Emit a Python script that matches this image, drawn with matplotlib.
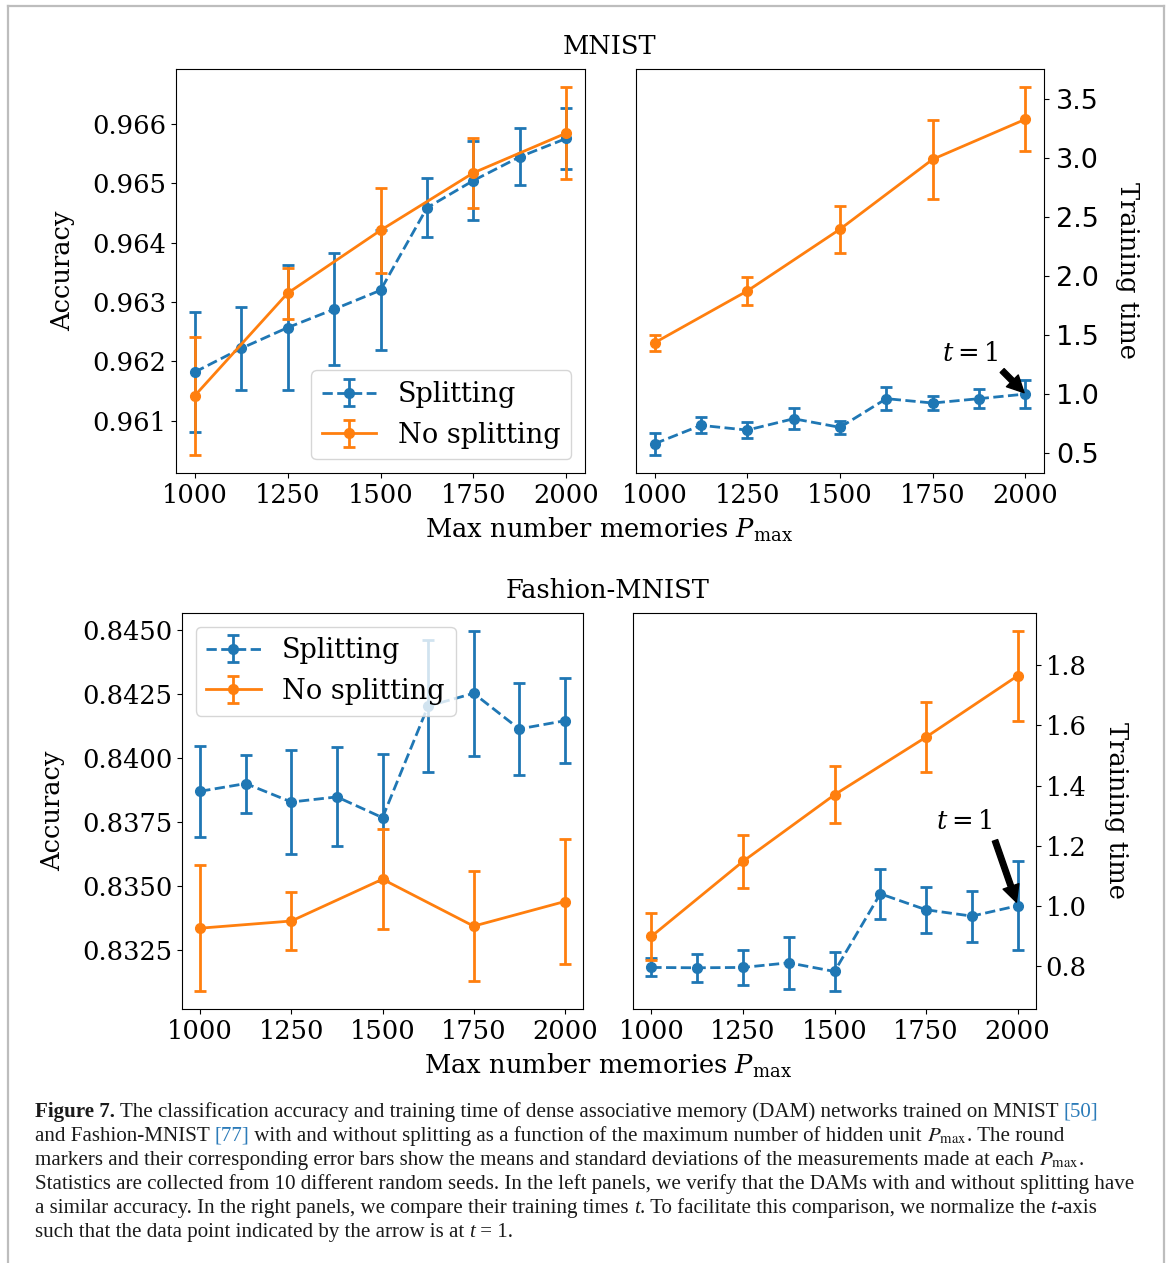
import matplotlib
matplotlib.use("Agg")
import matplotlib.pyplot as plt
from matplotlib.ticker import FixedLocator, FormatStrFormatter
from matplotlib.transforms import IdentityTransform
from matplotlib.lines import Line2D

# ---------------- data ----------------
P_split = [1000, 1125, 1250, 1375, 1500, 1625, 1750, 1875, 2000]
P_nosplit = [1000, 1250, 1500, 1750, 2000]

mnist_acc_split = [0.96182, 0.96222, 0.96257, 0.96288, 0.96320, 0.96459, 0.96505, 0.96545, 0.96576]
mnist_acc_split_err = [0.00101, 0.00070, 0.00105, 0.00094, 0.00101, 0.00050, 0.00067, 0.00048, 0.00051]
mnist_acc_nosplit = [0.96142, 0.96315, 0.96421, 0.96518, 0.96585]
mnist_acc_nosplit_err = [0.00099, 0.00043, 0.00072, 0.00059, 0.00077]

mnist_time_split = [0.579, 0.735, 0.695, 0.791, 0.718, 0.961, 0.924, 0.961, 1.0]
mnist_time_split_err = [0.092, 0.068, 0.065, 0.090, 0.057, 0.095, 0.060, 0.078, 0.122]
mnist_time_nosplit = [1.434, 1.873, 2.396, 2.988, 3.327]
mnist_time_nosplit_err = [0.068, 0.118, 0.200, 0.335, 0.270]

fashion_acc_split = [0.83870, 0.83900, 0.83828, 0.83848, 0.83767, 0.84202, 0.84252, 0.84113, 0.84145]
fashion_acc_split_err = [0.00178, 0.00113, 0.00204, 0.00193, 0.00247, 0.00258, 0.00243, 0.00180, 0.00166]
fashion_acc_nosplit = [0.83336, 0.83364, 0.83527, 0.83344, 0.83440]
fashion_acc_nosplit_err = [0.00245, 0.00115, 0.00196, 0.00214, 0.00245]

fashion_time_split = [0.7945, 0.7934, 0.7945, 0.810, 0.7811, 1.0397, 0.9865, 0.9654, 1.0]
fashion_time_split_err = [0.030, 0.047, 0.057, 0.086, 0.065, 0.083, 0.077, 0.085, 0.149]
fashion_time_nosplit = [0.8977, 1.1474, 1.3694, 1.5614, 1.7656]
fashion_time_nosplit_err = [0.078, 0.088, 0.095, 0.117, 0.149]

x_ticks = [1000, 1250, 1500, 1750, 2000]
mnist_acc_ticks = [0.961, 0.962, 0.963, 0.964, 0.965, 0.966]
mnist_time_ticks = [0.5, 1.0, 1.5, 2.0, 2.5, 3.0, 3.5]
fashion_acc_ticks = [0.8325, 0.8350, 0.8375, 0.8400, 0.8425, 0.8450]
fashion_time_ticks = [0.8, 1.0, 1.2, 1.4, 1.6, 1.8]

BLUE = "#1f77b4"
ORANGE = "#ff7f0e"
FS = 18.5
LEG_FS = 19.5

plt.rcParams["font.family"] = "DejaVu Serif"
plt.rcParams["mathtext.fontset"] = "dejavuserif"
plt.rcParams["font.size"] = FS

W, H = 1170, 1263
fig = plt.figure(figsize=(W / 100, H / 100), dpi=100)


def axes_px(x0, x1, y0, y1):
    return fig.add_axes([x0 / W, 1 - y1 / H, (x1 - x0) / W, (y1 - y0) / H])


ax_tl = axes_px(176, 585, 69, 473)
ax_tr = axes_px(636, 1044, 69, 473)
ax_bl = axes_px(182, 583, 613, 1009)
ax_br = axes_px(633, 1036, 613, 1009)

eb_kw = dict(capsize=4, ms=7, lw=2, elinewidth=2, capthick=2)


def draw(ax, ys, es, yn, en):
    ax.errorbar(P_split, ys, yerr=es, fmt="o--", color=BLUE, label="Splitting", **eb_kw)
    ax.errorbar(P_nosplit, yn, yerr=en, fmt="o-", color=ORANGE, label="No splitting", **eb_kw)
    ax.xaxis.set_major_locator(FixedLocator(x_ticks))
    ax.tick_params(labelsize=FS)


draw(ax_tl, mnist_acc_split, mnist_acc_split_err, mnist_acc_nosplit, mnist_acc_nosplit_err)
draw(ax_tr, mnist_time_split, mnist_time_split_err, mnist_time_nosplit, mnist_time_nosplit_err)
draw(ax_bl, fashion_acc_split, fashion_acc_split_err, fashion_acc_nosplit, fashion_acc_nosplit_err)
draw(ax_br, fashion_time_split, fashion_time_split_err, fashion_time_nosplit, fashion_time_nosplit_err)

# accuracy panels
ax_tl.yaxis.set_major_locator(FixedLocator(mnist_acc_ticks))
ax_tl.yaxis.set_major_formatter(FormatStrFormatter("%.3f"))
ax_bl.yaxis.set_major_locator(FixedLocator(fashion_acc_ticks))
ax_bl.yaxis.set_major_formatter(FormatStrFormatter("%.4f"))
for ax in (ax_tl, ax_bl):
    ax.set_ylabel("Accuracy", fontsize=FS, labelpad=12)

ax_tl.legend(loc="lower right", fontsize=LEG_FS)
ax_bl.legend(loc="upper left", fontsize=LEG_FS)

# training time panels
ax_tr.yaxis.set_major_locator(FixedLocator(mnist_time_ticks))
ax_tr.yaxis.set_major_formatter(FormatStrFormatter("%.1f"))
ax_br.yaxis.set_major_locator(FixedLocator(fashion_time_ticks))
ax_br.yaxis.set_major_formatter(FormatStrFormatter("%.1f"))
for ax in (ax_tr, ax_br):
    ax.yaxis.tick_right()
    ax.yaxis.set_label_position("right")
    ax.set_ylabel("Training time", rotation=270, labelpad=30, fontsize=FS)
ax_tr.tick_params(axis="y", labelsize=19.5, pad=5)
for lab in ax_tr.get_yticklabels():
    lab.set_fontfamily("DejaVu Sans")

# arrow to the normalising point t = 1
ax_tr.annotate(r"$t=1$", xy=(2000, 1.0), xytext=(1850, 1.34), ha="center", va="center",
               fontsize=FS, arrowprops=dict(facecolor="black", shrink=0.05))
ax_br.annotate(r"$t=1$", xy=(2000, 1.0), xytext=(1855, 1.28), ha="center", va="center",
               fontsize=FS, arrowprops=dict(facecolor="black", shrink=0.05))

# shared titles and x labels
xlabel = r"Max number memories $P_{\mathrm{max}}$"
fig.text(610 / W, 1 - 47 / H, "MNIST", ha="center", va="center", fontsize=FS)
fig.text(608 / W, 1 - 590 / H, "Fashion-MNIST", ha="center", va="center", fontsize=FS)
fig.text(609 / W, 1 - 530 / H, xlabel, ha="center", va="center", fontsize=FS)
fig.text(608 / W, 1 - 1066 / H, xlabel, ha="center", va="center", fontsize=FS)

# page frame
frame_kw = dict(color="#bdbdbd", lw=1.6, transform=IdentityTransform())
fig.add_artist(Line2D([8, 8], [0, H - 6], **frame_kw))
fig.add_artist(Line2D([8, 1164], [H - 6, H - 6], **frame_kw))
fig.add_artist(Line2D([1164, 1164], [0, H - 6], **frame_kw))

# caption
CAP_FAMILY = "Liberation Serif"
CITE = "#2b7bb9"
caption_lines = [
    [("Figure 7.", {"weight": "bold"}),
     (" The classification accuracy and training time of dense associative memory (DAM) networks trained on MNIST ", {}),
     ("[50]", {"color": CITE})],
    [("and Fashion-MNIST ", {}), ("[77]", {"color": CITE}),
     (" with and without splitting as a function of the maximum number of hidden unit ", {}),
     (r"$P_{\mathrm{max}}$", {"math": True}), (". The round", {})],
    [("markers and their corresponding error bars show the means and standard deviations of the measurements made at each ", {}),
     (r"$P_{\mathrm{max}}$", {"math": True}), (".", {})],
    [("Statistics are collected from 10 different random seeds. In the left panels, we verify that the DAMs with and without splitting have", {})],
    [("a similar accuracy. In the right panels, we compare their training times ", {}),
     ("t", {"style": "italic"}),
     (". To facilitate this comparison, we normalize the ", {}),
     ("t", {"style": "italic"}), ("-axis", {})],
    [("such that the data point indicated by the arrow is at ", {}), ("t", {"style": "italic"}),
     (" = 1.", {})],
]

renderer = fig.canvas.get_renderer()


def make_text(x, y, s, size, opts):
    kw = dict(fontsize=size, family=CAP_FAMILY, va="baseline", ha="left",
              transform=IdentityTransform())
    if opts.get("math"):
        kw["math_fontfamily"] = "stix"
    if "weight" in opts:
        kw["fontweight"] = opts["weight"]
    if "style" in opts:
        kw["fontstyle"] = opts["style"]
    kw["color"] = opts.get("color", "#1a1a1a")
    return fig.text(x, y, s, **kw)


def seg_width(s, size, opts):
    # measure with a sentinel so that leading/trailing spaces count
    if opts.get("math"):
        t = make_text(0, 0, s, size, opts)
        w = t.get_window_extent(renderer).width
        t.remove()
        return w
    t1 = make_text(0, 0, "|" + s + "|", size, opts)
    t2 = make_text(0, 0, "||", size, opts)
    w = t1.get_window_extent(renderer).width - t2.get_window_extent(renderer).width
    t1.remove()
    t2.remove()
    return w


ref_size = 14.0
ref_w = sum(seg_width(s, ref_size, o) for s, o in caption_lines[3])
cap_size = ref_size * (1134 - 35) / ref_w

baseline0 = 1117
for i, line in enumerate(caption_lines):
    x = 35.0
    y = H - (baseline0 + 24 * i)
    for s, o in line:
        make_text(x, y, s, cap_size, o)
        x += seg_width(s, cap_size, o)

fig.savefig("out.png", dpi=100)
